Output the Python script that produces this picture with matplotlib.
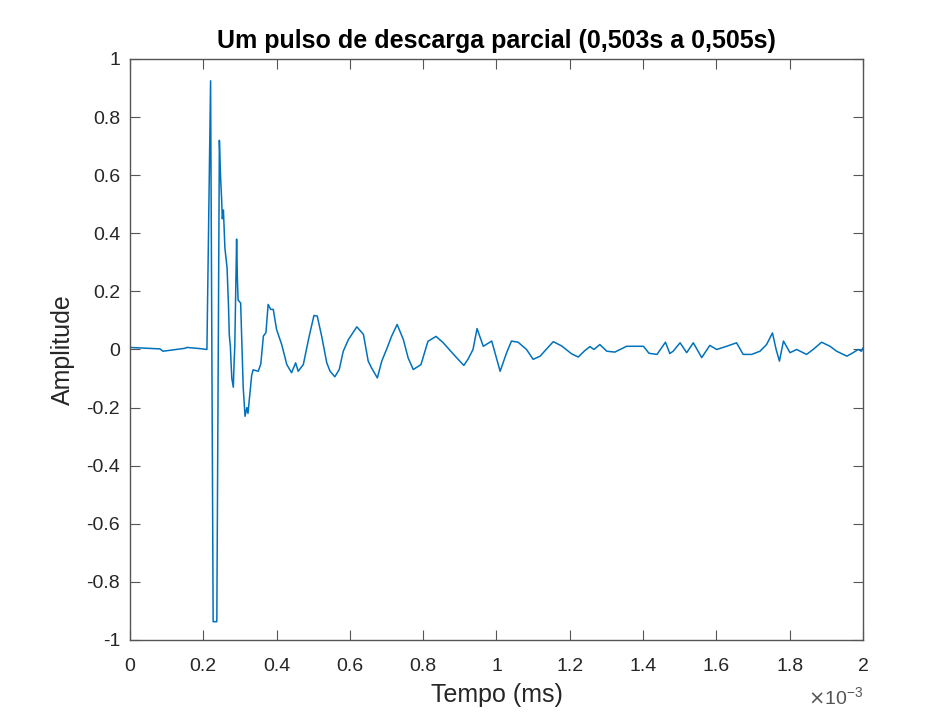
import numpy as np
import matplotlib
matplotlib.use("Agg")
import matplotlib.pyplot as plt

plt.rcParams['font.family'] = ['Liberation Sans', 'DejaVu Sans']
plt.rcParams['axes.unicode_minus'] = False

# time in ms, amplitude
tempo_ms = [0.000, 0.082, 0.090, 0.150, 0.156, 0.191, 0.210, 0.220, 0.227, 0.237,
            0.244, 0.247, 0.250, 0.252, 0.255, 0.259, 0.265, 0.269, 0.271, 0.274,
            0.276, 0.278, 0.282, 0.284, 0.286, 0.291, 0.293, 0.295, 0.302, 0.309,
            0.314, 0.319, 0.322, 0.332, 0.336, 0.350, 0.357, 0.364, 0.371, 0.377,
            0.384, 0.391, 0.400, 0.414, 0.428, 0.441, 0.452, 0.459, 0.473, 0.487,
            0.502, 0.511, 0.523, 0.537, 0.546, 0.559, 0.571, 0.582, 0.596, 0.619,
            0.637, 0.650, 0.659, 0.675, 0.687, 0.700, 0.714, 0.729, 0.746, 0.759,
            0.773, 0.794, 0.813, 0.835, 0.854,
            0.891, 0.911, 0.923, 0.936, 0.947, 0.964, 0.987, 1.010, 1.028, 1.041,
            1.059, 1.082, 1.100, 1.119, 1.155, 1.178, 1.205, 1.223, 1.241, 1.255,
            1.266, 1.282, 1.301, 1.323, 1.355, 1.401, 1.416, 1.438, 1.461, 1.473,
            1.482, 1.501, 1.519, 1.537, 1.560, 1.582, 1.601, 1.628, 1.655, 1.673,
            1.696, 1.719, 1.737, 1.753, 1.763, 1.772, 1.783, 1.801, 1.819, 1.846,
            1.864, 1.887, 1.910, 1.928, 1.956, 1.973, 1.987, 1.996, 2.000]
amplitude = [0.007, 0.002, -0.006, 0.004, 0.007, 0.003, 0.000, 0.925, -0.937, -0.937,
             0.720, 0.600, 0.520, 0.450, 0.480, 0.350, 0.280, 0.145, 0.050, 0.010,
             -0.050, -0.100, -0.130, -0.050, 0.010, 0.380, 0.250, 0.170, 0.160, -0.130,
             -0.230, -0.200, -0.220, -0.090, -0.070, -0.075, -0.050, 0.046, 0.058, 0.155,
             0.138, 0.138, 0.069, 0.017, -0.052, -0.080, -0.046, -0.075, -0.052, 0.034,
             0.117, 0.115, 0.046, -0.046, -0.075, -0.094, -0.069, -0.006, 0.034, 0.078,
             0.052, -0.040, -0.063, -0.098, -0.040, 0.000, 0.046, 0.086, 0.034, -0.029,
             -0.069, -0.052, 0.028, 0.045, 0.024,
             -0.028, -0.055, -0.032, 0.000, 0.072, 0.011, 0.029, -0.075, -0.010, 0.029,
             0.025, 0.000, -0.034, -0.023, 0.027, 0.012, -0.015, -0.026, -0.004, 0.010,
             0.000, 0.017, -0.006, -0.009, 0.011, 0.011, -0.013, -0.017, 0.025, -0.014,
             -0.006, 0.023, -0.011, 0.023, -0.028, 0.014, 0.000, 0.011, 0.023, -0.017,
             -0.017, -0.006, 0.017, 0.057, 0.000, -0.040, 0.029, -0.011, 0.000, -0.017,
             0.000, 0.025, 0.011, -0.006, -0.023, -0.011, 0.000, -0.006, 0.005]

x_ticks = [0, 0.2, 0.4, 0.6, 0.8, 1, 1.2, 1.4, 1.6, 1.8, 2]
y_ticks = [-1, -0.8, -0.6, -0.4, -0.2, 0, 0.2, 0.4, 0.6, 0.8, 1]

t = np.array(tempo_ms) * 1e-3

fig = plt.figure(figsize=(9.41, 7.13), dpi=100)
ax = fig.add_axes([0.1381, 0.1024, 0.7790, 0.8149])
ax.plot(t, amplitude, color='#0072BD', linewidth=1.1)

ax.set_xlim(0, 2e-3)
ax.set_ylim(-1, 1)
ax.set_xticks(np.array(x_ticks) * 1e-3)
ax.set_xticklabels([f"{v:g}" for v in x_ticks])
ax.set_yticks(y_ticks)
ax.set_yticklabels([f"{v:g}" for v in y_ticks])

txt = '#262626'
for s in ax.spines.values():
    s.set_color('#555555')
    s.set_linewidth(1.0)
ax.tick_params(direction='in', length=7, width=0.8, colors='#555555',
               labelcolor=txt, labelsize=14, top=True, right=True)
ax.tick_params(axis='x', pad=13)
ax.tick_params(axis='y', pad=7)

ax.set_title("Um pulso de descarga parcial (0,503s a 0,505s)",
             fontsize=18, fontweight='bold', color='black', pad=8)
ax.set_xlabel("Tempo (ms)", fontsize=18, color=txt, labelpad=6)
ax.set_ylabel("Amplitude", fontsize=18, color=txt, labelpad=8)

# exponent note under the x axis, as in the original
ax.annotate(r"$\times\mathdefault{10^{-3}}$", xy=(1.0, 0), xycoords='axes fraction',
            xytext=(0, -41), textcoords='offset points', ha='right', va='center',
            fontsize=14, color='#555555')

fig.savefig("out.png", dpi=100, facecolor='white')
